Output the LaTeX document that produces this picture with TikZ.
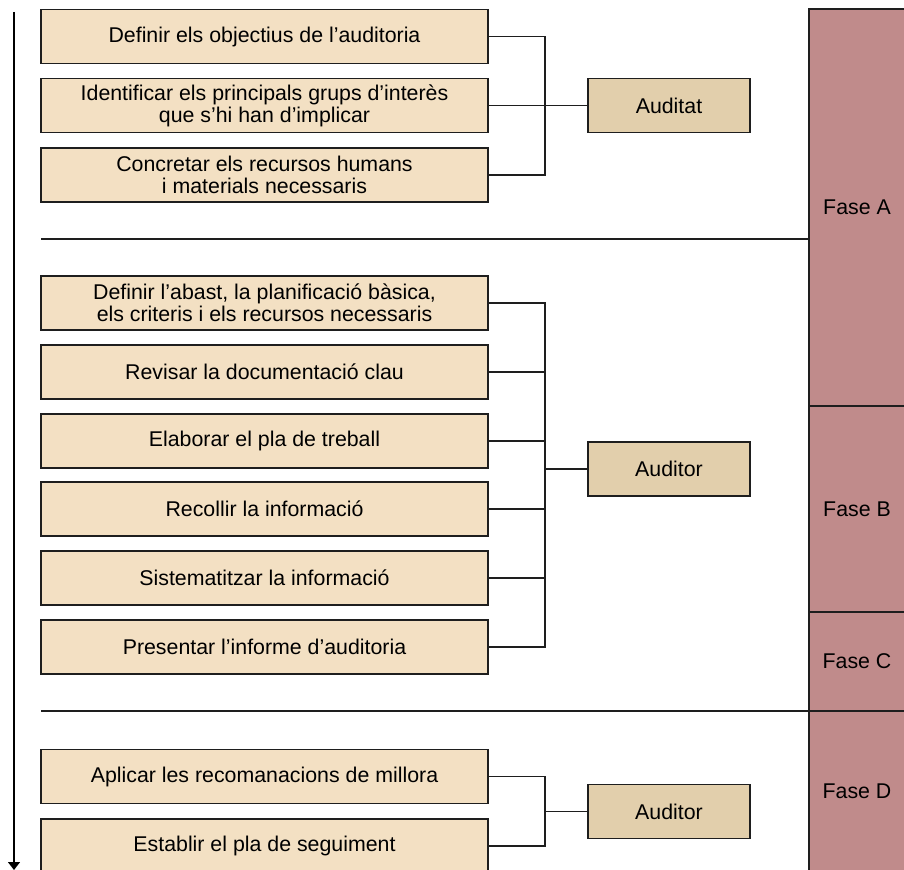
\documentclass[tikz,border=0pt]{standalone}
\usepackage{fontspec}
\setmainfont{Liberation Sans}
\usetikzlibrary{arrows.meta}
\definecolor{stepfill}{RGB}{243,224,195}
\definecolor{rolefill}{RGB}{226,207,172}
\definecolor{phasefill}{RGB}{192,139,139}
\definecolor{inkline}{RGB}{30,30,30}
\begin{document}
\begin{tikzpicture}[x=0.75pt,y=-0.75pt,
  every node/.style={font=\fontsize{16pt}{16.5pt}\selectfont, inner sep=0pt, outer sep=0pt},
  stepbox/.style={draw=inkline, line width=1.1pt, fill=stepfill, minimum width=335.25pt, minimum height=40.5pt, align=center},
  rolebox/.style={draw=inkline, line width=1.1pt, fill=rolefill, minimum width=121.5pt, minimum height=40.5pt},
  phasebox/.style={draw=inkline, line width=1.1pt, fill=phasefill, minimum width=75pt, anchor=north west},
  link/.style={draw=inkline, line width=1pt}]
\clip (0,0) rectangle (904,870);
\useasboundingbox (0,0) rectangle (904,870);

% phase column
\node[phasebox, minimum height=297.75pt] (fa) at (809,9) {};
\node at (857,207.5) {Fase A};
\node[phasebox, minimum height=154.5pt] (fb) at (809,406) {};
\node at (857,509) {Fase B};
\node[phasebox, minimum height=74.25pt] (fc) at (809,612) {};
\node at (857,661.5) {Fase C};
\node[phasebox, minimum height=130pt] (fd) at (809,711) {};
\node at (857,791) {Fase D};

% time axis
\coordinate (ttop) at (14,12);
\coordinate (tbot) at (14,870);
\draw[line width=1pt, -{Triangle[length=6pt,width=9pt]}] (ttop) -- (tbot);

% section separators
\coordinate (sepA) at (41,239);
\coordinate (sepC) at (41,711);
\draw[link] (sepA) -- (sepA -| fa.west);
\draw[link] (sepC) -- (sepC -| fc.west);

% phase A
\node[stepbox] (a1) at (264.5,36.5) {Definir els objectius de l’auditoria};
\node[stepbox] (a2) at (264.5,105.5) {Identificar els principals grups d’interès\\que s’hi han d’implicar};
\node[stepbox] (a3) at (264.5,175) {Concretar els recursos humans\\i materials necessaris};
\node[rolebox] (ra) at (669,105.5) {Auditat};
\coordinate (ja) at (545,105.5);
\draw[link] (a1.east) -| (ja) |- (a3.east);
\draw[link] (a2.east) -- (ra.west);

% phases B and C
\node[stepbox] (b1) at (264.5,303) {Definir l’abast, la planificació bàsica,\\els criteris i els recursos necessaris};
\node[stepbox] (b2) at (264.5,372) {Revisar la documentació clau};
\node[stepbox] (b3) at (264.5,441) {Elaborar el pla de treball};
\node[stepbox] (b4) at (264.5,509) {Recollir la informació};
\node[stepbox] (b5) at (264.5,578) {Sistematitzar la informació};
\node[stepbox] (b6) at (264.5,647) {Presentar l’informe d’auditoria};
\node[rolebox] (rb) at (669,469) {Auditor};
\coordinate (jb) at (545,469);
\draw[link] (b1.east) -| (jb) |- (b6.east);
\foreach \n in {b2,b3,b4,b5} \draw[link] (\n.east) -- (\n.east -| jb);
\draw[link] (jb) -- (rb.west);

% phase D
\node[stepbox] (d1) at (264.5,776.5) {Aplicar les recomanacions de millora};
\node[stepbox] (d2) at (264.5,846) {Establir el pla de seguiment};
\node[rolebox] (rd) at (669,811.5) {Auditor};
\coordinate (jd) at (545,811.5);
\draw[link] (d1.east) -| (jd) |- (d2.east);
\draw[link] (jd) -- (rd.west);
\end{tikzpicture}
\end{document}
